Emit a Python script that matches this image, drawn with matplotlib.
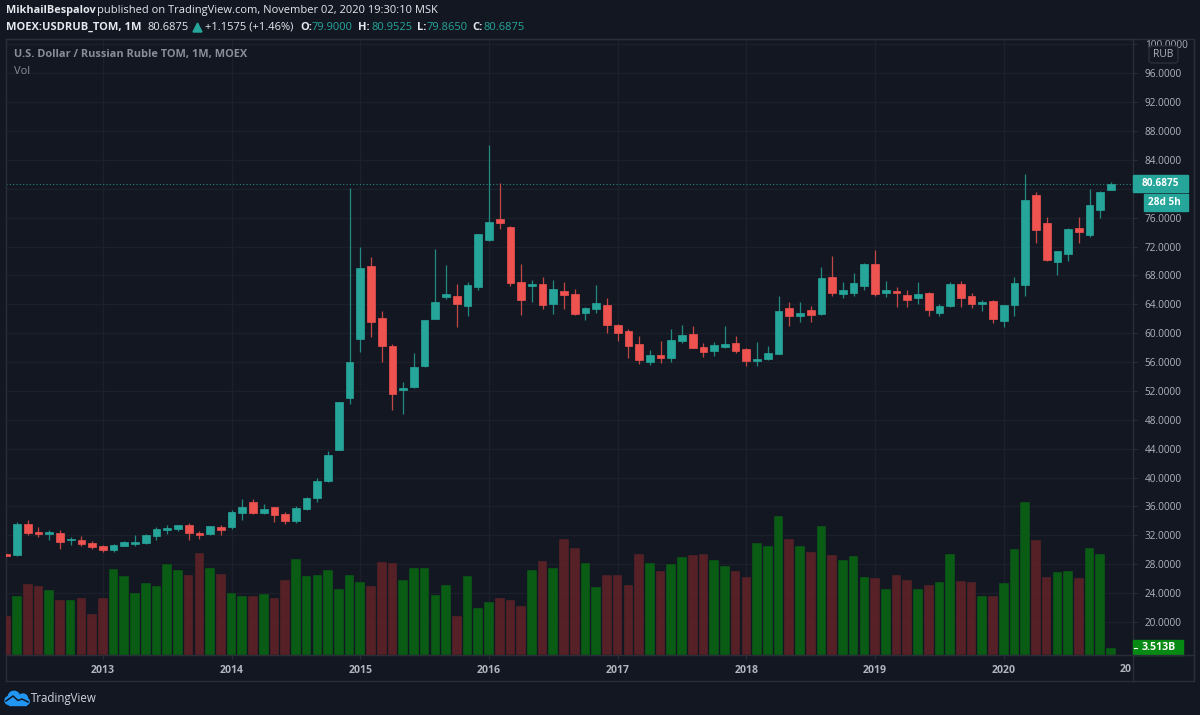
import matplotlib
matplotlib.use('Agg')
import matplotlib.pyplot as plt
from matplotlib.patches import Rectangle, FancyBboxPatch, Polygon, Circle

plt.rcParams['font.family'] = ['Open Sans', 'DejaVu Sans']

# monthly candles, Apr 2012 .. Nov 2020
opens = [29.4, 29.23, 33.53, 32.51, 32.19, 32.37, 31.31, 31.36, 30.99, 30.53, 30.02, 30.53, 30.85,
         30.99, 31.91, 32.79, 32.88, 33.39, 32.37, 32.14, 33.16, 33.16, 35.05, 36.67, 35.05, 35.93,
         34.91, 34.03, 35.7, 37.17, 39.57, 43.8, 50.98, 59.2, 69.31, 62.06, 58.27, 52.13, 52.6,
         55.5, 61.97, 65.01, 65.2, 63.77, 66.45, 72.95, 75.82, 74.71, 67.09, 66.54, 66.86, 64.09,
         65.84, 65.38, 62.84, 63.4, 63.95, 61.18, 60.3, 58.5, 56.01, 56.98, 56.52, 58.92, 59.89,
         58.13, 57.53, 58.13, 58.64, 57.77, 56.15, 56.38, 57.12, 63.44, 62.34, 63.21, 62.61, 67.78,
         65.48, 65.61, 66.54, 69.54, 65.61, 65.84, 65.34, 64.88, 65.57, 62.84, 63.72, 66.77, 65.15,
         64.09, 64.46, 61.69, 63.86, 66.63, 79.1, 75.31, 69.91, 70.97, 74.52, 73.6, 77.11, 79.9]
highs = [29.4, 33.8, 34.13, 33.16, 32.74, 32.74, 31.77, 31.91, 31.17, 30.66, 30.8, 31.17, 32.0,
         32.19, 33.16, 33.39, 33.48, 33.67, 32.6, 33.34, 33.39, 35.51, 37.04, 37.04, 36.34, 35.93,
         35.28, 36.02, 37.31, 39.94, 43.73, 50.47, 80.11, 71.94, 70.55, 63.07, 58.5, 53.2, 57.21,
         61.78, 71.66, 69.4, 66.77, 67.09, 73.69, 86.11, 80.76, 74.85, 69.54, 67.37, 67.78, 67.37,
         67.09, 66.12, 63.63, 66.63, 64.83, 61.27, 60.58, 59.61, 57.63, 58.92, 60.58, 61.14, 60.95,
         58.64, 58.78, 60.95, 59.57, 57.9, 58.78, 58.18, 65.15, 64.32, 64.32, 63.81, 69.17, 70.69,
         67.09, 68.38, 69.77, 71.52, 67.23, 66.4, 65.98, 67.14, 65.71, 64.04, 67.09, 67.23, 65.57,
         64.6, 64.6, 63.95, 67.78, 82.05, 79.51, 76.09, 71.39, 74.52, 76.09, 79.97, 79.74, 80.9525]
lows = [29.2, 29.14, 32.0, 31.77, 31.36, 30.11, 30.62, 30.57, 30.16, 29.74, 29.74, 30.5, 30.53,
        30.85, 31.36, 32.14, 32.65, 31.36, 31.5, 32.05, 32.0, 32.93, 34.13, 34.96, 34.91, 33.9,
        33.53, 33.67, 35.51, 36.57, 39.34, 43.8, 50.19, 57.4, 59.52, 56.01, 49.36, 48.81, 52.46,
        55.27, 61.97, 64.74, 60.81, 62.34, 66.03, 72.82, 74.43, 66.58, 62.57, 64.32, 63.35, 62.71,
        63.35, 62.57, 61.83, 62.84, 60.07, 58.97, 56.52, 55.73, 55.64, 55.87, 56.01, 58.64, 57.9,
        56.7, 56.84, 57.9, 57.26, 55.46, 55.46, 56.29, 57.12, 60.95, 61.55, 61.55, 62.47, 65.11,
        64.88, 65.11, 65.98, 65.11, 65.06, 63.63, 63.58, 64.04, 62.43, 62.43, 63.63, 63.63, 63.49,
        63.07, 61.41, 60.81, 62.43, 65.2, 72.54, 70.05, 68.01, 70.05, 72.54, 73.32, 75.96, 79.865]
closes = [29.2, 33.53, 32.37, 32.14, 32.4, 31.13, 31.45, 30.76, 30.39, 29.97, 30.62, 31.13, 31.13,
          32.0, 32.88, 33.07, 33.39, 32.37, 32.0, 33.25, 32.74, 35.28, 35.93, 35.05, 35.65, 34.82,
          33.94, 35.79, 37.17, 39.57, 43.13, 50.47, 56.01, 69.03, 61.6, 58.18, 51.63, 52.36, 55.36,
          61.78, 64.32, 65.48, 64.0, 66.63, 73.69, 75.45, 75.22, 67.0, 64.65, 66.81, 63.95, 66.12,
          65.24, 62.71, 63.49, 64.18, 61.18, 60.07, 58.27, 56.29, 56.98, 56.52, 59.06, 59.75, 57.9,
          57.44, 58.37, 58.5, 57.53, 56.15, 56.38, 57.26, 63.07, 62.34, 62.8, 62.47, 67.65, 65.52,
          65.98, 66.95, 69.63, 65.38, 65.94, 65.61, 64.65, 65.48, 63.26, 63.72, 66.86, 64.88, 64.09,
          64.32, 61.97, 63.95, 66.95, 78.45, 74.34, 70.19, 71.39, 74.43, 74.06, 77.71, 79.6, 80.6875]
# volume in billions
volumes = [20.7, 30.9, 37.6, 36.5, 34.3, 29.0, 29.0, 30.0, 21.6, 30.0, 45.3, 41.5, 32.7, 37.9, 36.5,
           47.8, 44.8, 42.0, 53.9, 45.8, 42.9, 32.7, 31.3, 30.9, 32.3, 30.0, 39.5, 50.6, 41.5, 42.3,
           44.8, 34.8, 42.0, 38.5, 36.5, 49.0, 48.5, 39.5, 45.8, 45.8, 31.6, 37.1, 20.7, 41.5, 24.6,
           27.9, 30.0, 29.0, 26.0, 44.8, 49.5, 45.8, 61.1, 56.4, 48.7, 35.7, 42.0, 42.0, 37.1, 53.4,
           48.7, 44.3, 48.1, 51.5, 52.9, 53.4, 50.1, 46.7, 44.3, 40.9, 58.8, 57.4, 73.2, 61.1, 57.4,
           54.4, 68.0, 52.5, 50.1, 52.0, 40.9, 40.6, 34.8, 42.3, 39.5, 34.8, 37.1, 38.5, 53.4, 39.0,
           38.5, 30.9, 30.9, 37.9, 55.9, 80.8, 60.6, 40.9, 43.7, 44.3, 40.6, 56.4, 53.4, 3.513]
year_ticks = [9, 21, 33, 45, 57, 69, 81, 93]
year_labels = ['2013', '2014', '2015', '2016', '2017', '2018', '2019', '2020']
price_ticks = list(range(20, 101, 4))
last_price = 80.6875

BG = '#131722'
GRID = '#1c202b'
FRAME = '#2a2e39'
TEXT = '#b2b5be'
UP = '#26a69a'
DOWN = '#ef5350'
VOL_UP = '#0a5f14'
VOL_DOWN = '#5a2227'

fig = plt.figure(figsize=(12, 7.15), dpi=100, facecolor=BG)
pos = [6 / 1200, (715 - 655) / 715, (1133 - 6) / 1200, (655 - 39) / 715]

ax = fig.add_axes(pos, facecolor=BG)
ax_vol = fig.add_axes(pos, facecolor='none')

x = list(range(len(closes)))
vol_colors = [VOL_UP if c >= o else VOL_DOWN for o, c in zip(opens, closes)]
ax_vol.bar(x, volumes, width=0.9, color=vol_colors, edgecolor='#131722', linewidth=0.3, alpha=0.96)
ax_vol.set_xlim(-0.03, 105.05)
ax_vol.set_ylim(0, 324.6)
ax_vol.axis('off')

colors = [UP if c >= o else DOWN for o, c in zip(opens, closes)]
ax.vlines(x, lows, highs, colors=colors, linewidth=0.9, alpha=0.8, zorder=3)
bottoms = [min(o, c) for o, c in zip(opens, closes)]
heights = [abs(c - o) for o, c in zip(opens, closes)]
ax.bar(x, heights, bottom=bottoms, width=0.72, color=colors, edgecolor=colors, linewidth=0.5, zorder=4)
ax.axhline(last_price, color=UP, linewidth=0.8, linestyle=(0, (1, 2)), alpha=0.8, zorder=2)

ax.set_xlim(-0.03, 105.05)
ax.set_ylim(15.43, 100.75)
ax.set_xticks(year_ticks)
ax.set_xticklabels(year_labels, fontweight='bold')
ax.set_yticks(price_ticks)
# 80.0000 sits under the last-price box in the original
ax.set_yticklabels(['' if p == 80 else '%.4f' % p for p in price_ticks])
ax.yaxis.tick_right()
ax.tick_params(axis='x', colors=TEXT, labelsize=7.6, length=3, width=0.8, color=FRAME, pad=4)
ax.tick_params(axis='y', colors=TEXT, labelsize=7.2, length=3, width=0.8, color=FRAME, pad=5.5)
ax.grid(True, color=GRID, linewidth=1)
ax.set_axisbelow(True)
for s in ax.spines.values():
    s.set_color(FRAME)
    s.set_linewidth(1)

# page furniture, in pixels
ov = fig.add_axes([0, 0, 1, 1], facecolor='none', zorder=10)
ov.set_xlim(0, 1200)
ov.set_ylim(715, 0)
ov.axis('off')

ov.plot([6, 1194, 1194, 6], [681, 681, 39, 39], color=FRAME, linewidth=1)
ov.plot([1194, 1194], [39, 681], color=FRAME, linewidth=1)
ov.plot([6, 6], [655, 681], color=FRAME, linewidth=1)
ov.plot([1133, 1133], [655, 681], color=FRAME, linewidth=1)
ov.plot([1133, 1194], [655, 655], color=FRAME, linewidth=1)

WHITE = '#e6e8ee'
ov.text(6, 11, 'MikhailBespalov', color=WHITE, fontsize=7.8, fontweight='bold', va='center')
ov.text(97, 11, 'published on TradingView.com, November 02, 2020 19:30:10 MSK', color=WHITE, fontsize=8, va='center')
ov.text(6, 27, 'MOEX:USDRUB_TOM, 1M', color=WHITE, fontsize=8, fontweight='bold', va='center')
ov.text(148, 27, '80.6875', color=WHITE, fontsize=8, va='center')
ov.add_patch(Polygon([[193, 32], [202, 32], [197.5, 23]], color=UP))
ov.text(205, 27, '+1.1575 (+1.46%)', color=WHITE, fontsize=8, va='center')
for lab, lx, vx, val in [('O:', 300, 312, '79.9000'), ('H:', 358, 371, '80.9525'),
                         ('L:', 417, 427, '79.8650'), ('C:', 472, 483, '80.6875')]:
    ov.text(lx, 27, lab, color=WHITE, fontsize=8, fontweight='bold', va='center')
    ov.text(vx, 27, val, color=UP, fontsize=8, va='center')

ov.text(14, 55, 'U.S. Dollar / Russian Ruble TOM, 1M, MOEX', color='#8a8d97', fontsize=7.9, fontweight='bold', va='center')
ov.text(14, 71, 'Vol', color='#8a8d97', fontsize=8, va='center')

# price labels on the scale
ov.add_patch(Rectangle((1133, 175), 55, 17, color=UP))
ov.text(1142, 183.5, '80.6875', color='white', fontsize=7.2, fontweight='bold', va='center')
ov.add_patch(Rectangle((1144, 194), 44, 17, color=UP))
ov.text(1148, 202.5, '28d 5h', color='white', fontsize=7.2, fontweight='bold', va='center')
ov.add_patch(FancyBboxPatch((1151, 48), 25, 13, boxstyle='round,pad=2,rounding_size=3', facecolor=BG, edgecolor=FRAME, linewidth=1))
ov.text(1163.5, 54.5, 'RUB', color=TEXT, fontsize=7.4, ha='center', va='center')
ov.add_patch(Rectangle((1133, 640), 50, 15, color='#078a13'))
ov.plot([1134, 1137], [648, 648], color='white', linewidth=0.8)
ov.text(1142, 648, '3.513B', color='white', fontsize=7.6, fontweight='bold', va='center')
ov.text(1132, 669, '20', color=TEXT, fontsize=7.6, fontweight='bold', ha='right', va='center')

# logo: cloud made of a few blobs with a dark zigzag through it
LOGO = '#2196f3'
for cx, cy, r in [(9, 700.5, 4), (14, 697, 5.7), (23, 698.5, 4.5), (26, 701.5, 3.2)]:
    ov.add_patch(Circle((cx, cy), r, color=LOGO, zorder=3))
ov.add_patch(Rectangle((9, 699), 17, 5.7, color=LOGO, zorder=3))
ov.plot([6, 13, 18, 22, 28], [701, 696, 700.5, 699, 702], color=BG, linewidth=1.1, zorder=4)
ov.text(31, 698.5, 'TradingView', color='#d1d4dc', fontsize=8.3, va='center')

fig.savefig('out.png', dpi=100, facecolor=BG)
